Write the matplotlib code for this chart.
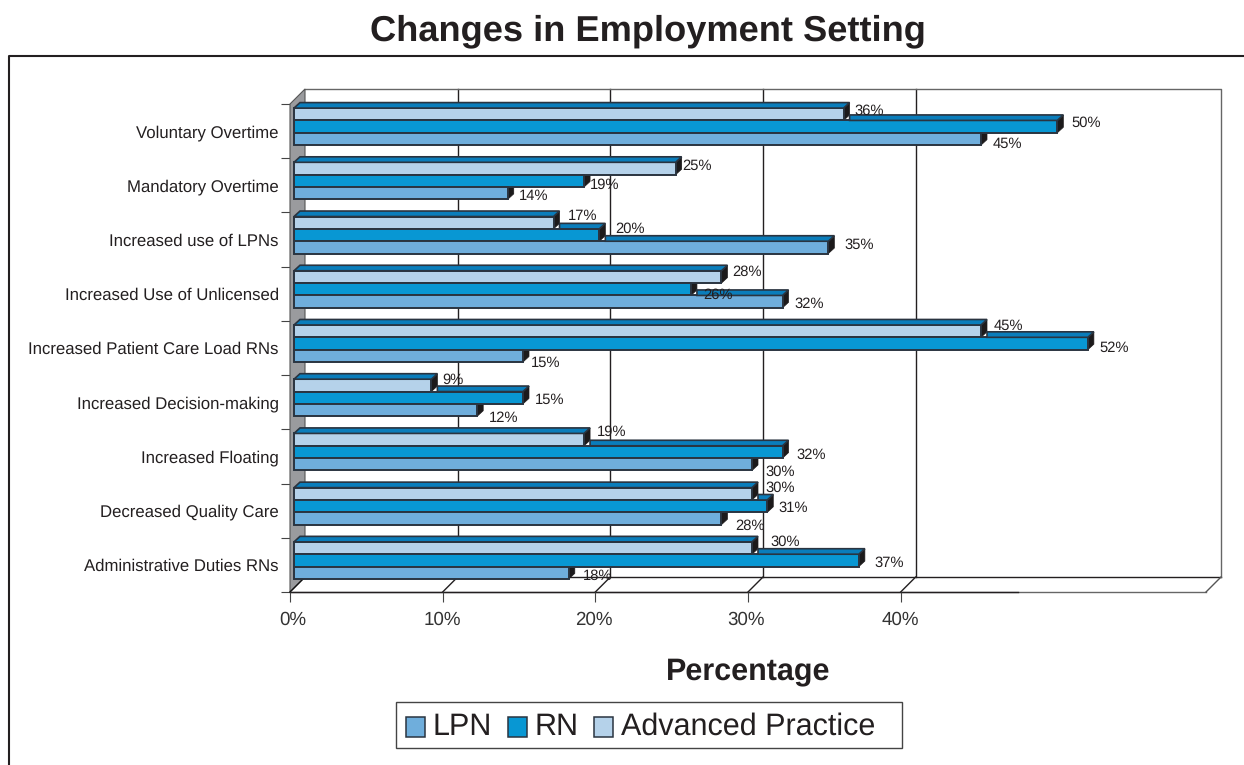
import matplotlib
matplotlib.use("Agg")
import matplotlib.pyplot as plt
from matplotlib.patches import Polygon, Patch, Rectangle
from matplotlib.lines import Line2D
from matplotlib.legend_handler import HandlerPatch
from matplotlib.transforms import ScaledTranslation

plt.rcParams['font.family'] = ['Liberation Sans', 'DejaVu Sans']
plt.rcParams['text.hinting'] = 'no_hinting'

categories = ["Administrative Duties RNs", "Decreased Quality Care", "Increased Floating",
              "Increased Decision-making", "Increased Patient Care Load RNs",
              "Increased Use of Unlicensed", "Increased use of LPNs",
              "Mandatory Overtime", "Voluntary Overtime"]
lpn = [18, 28, 30, 12, 15, 32, 35, 14, 45]
rn = [37, 31, 32, 15, 52, 26, 20, 19, 50]
advanced = [30, 30, 19, 9, 45, 28, 17, 25, 36]
series_names = ["LPN", "RN", "Advanced Practice"]
x_tick_values = [0, 10, 20, 30, 40]

W, H = 1244, 765
AX_L, AX_R, AX_T, AX_B = 290, 1206, 104, 592
XMAX = 60
PXX = (AX_R - AX_L) / XMAX
PXY = (AX_B - AX_T) / 9
dxw, dyw = 15 / PXX, 15 / PXY      # depth of the chart box
dxb, dyb = 6 / PXX, 5.5 / PXY      # depth of a bar
x0 = 4 / PXX                       # bar start
bh = 12.35 / PXY                   # bar height
shift = 4.5 / PXY                  # group shift upward

colors = ["#6FAEDC", "#0897D3", "#B5D2EA"]
TOP = "#0A7DBB"
SIDE = "#1C1A1B"
EDGE = "#2A3440"
INK = "#231F20"

# label offsets in pixels from the bar end (dx) and the bar centre (dy, positive = down)
label_off = {
    8: [(12, 5), (14, -3.5), (11, -3.5)],
    7: [(11, 3), (6, 4.5), (7, -2.5)],
    6: [(16.5, -2.5), (16, -6.5), (14, -6.5)],
    5: [(12, 2.5), (12, 5.5), (11, -4.5)],
    4: [(8, 7.5), (12, 4.5), (13, -5.5)],
    3: [(12, 7.5), (12, 2.5), (11, -5.5)],
    2: [(13, 7.5), (14, 3.5), (13, -7.5)],
    1: [(13.5, 7.5), (11, 1.5), (13, -5.5)],
    0: [(14, 3.5), (16, 2.5), (18, -6)],
}
tick_label_nudge = {0: 3, 10: 0, 20: -2, 30: -2, 40: 0}

fig = plt.figure(figsize=(W / 100, H / 100), dpi=100, facecolor="white")
ax = fig.add_axes([AX_L / W, 1 - AX_B / H, (AX_R - AX_L) / W, (AX_B - AX_T) / H])
ax.set_xlim(0, XMAX)
ax.set_ylim(0, 9)
ax.patch.set_alpha(0)
for s in ax.spines.values():
    s.set_visible(False)

# outer frame: left and top edges only
fig.add_artist(Line2D([8.5 / W, 8.5 / W, 1], [0, 1 - 55.5 / H, 1 - 55.5 / H], color=INK, lw=1.5))

# box: back wall, gridlines, floor, left wall
lw = 1.0
ax.plot([dxw, XMAX + dxw, XMAX + dxw], [9 + dyw, 9 + dyw, dyw], color="#666666", lw=lw, clip_on=False)
ax.plot([dxw, XMAX + dxw], [dyw, dyw], color=INK, lw=lw, clip_on=False, zorder=1)
ax.plot([0, XMAX], [0, 0], color="#666666", lw=lw, clip_on=False, zorder=1)
ax.plot([0, 47.7], [0, 0], color=INK, lw=lw, clip_on=False, zorder=1)
ax.plot([XMAX, XMAX + dxw], [0, dyw], color="#555555", lw=lw, clip_on=False)
for v in x_tick_values[1:]:
    ax.plot([v + dxw, v + dxw], [dyw, 9 + dyw], color=INK, lw=lw, clip_on=False, zorder=1)
    ax.plot([v, v + dxw], [0, dyw], color=INK, lw=lw, clip_on=False, zorder=1)
ax.add_patch(Polygon([(0, 0), (dxw, dyw), (dxw, 9 + dyw), (0, 9)], closed=True,
                     facecolor="#9A9B9E", edgecolor="#555555", lw=0.8, clip_on=False, zorder=2))
ax.plot([0, dxw], [0, dyw], color="#111111", lw=1.0, clip_on=False, zorder=2)

# bars
for i in range(len(categories)):
    for j, vals in enumerate((lpn, rn, advanced)):
        v = vals[i]
        yb = i + 0.5 + shift + (j - 1.5) * bh
        xe = x0 + v
        y_t = yb + bh
        ax.barh(yb, v, height=bh, left=x0, align="edge", color=colors[j], edgecolor=EDGE,
                linewidth=1.4, zorder=4 + (i * 3 + (2 - j)) * 0.01, clip_on=False)
        ax.add_patch(Polygon([(xe, yb), (xe + dxb, yb + dyb), (xe + dxb, y_t + dyb), (xe, y_t)],
                             closed=True, facecolor=SIDE, edgecolor=SIDE, lw=0.5,
                             zorder=3.9, clip_on=False))
        if j == 2:
            ax.add_patch(Polygon([(x0, y_t), (x0 + dxb, y_t + dyb), (xe + dxb, y_t + dyb), (xe, y_t)],
                                 closed=True, facecolor=TOP, edgecolor=EDGE, lw=1.2,
                                 zorder=4.5, clip_on=False))
    # top faces of bars that stick out beyond their upper neighbour
    for j, (vals, upper) in enumerate(((lpn, rn), (rn, advanced))):
        v, u = vals[i], upper[i]
        if v > u:
            yb = i + 0.5 + shift + (j - 1.5) * bh
            y_t = yb + bh
            ax.add_patch(Polygon([(x0 + u + dxb, y_t), (x0 + u + dxb, y_t + dyb),
                                  (x0 + v + dxb, y_t + dyb), (x0 + v, y_t)],
                                 closed=True, facecolor=TOP, edgecolor=EDGE, lw=1.2,
                                 zorder=4.4, clip_on=False))
    for j, vals in enumerate((lpn, rn, advanced)):
        v = vals[i]
        yc = i + 0.5 + shift + (j - 1) * bh
        ox, oy = label_off[i][j]
        ax.annotate(f"{v}%", (x0 + v, yc), xytext=(ox * 0.72, -oy * 0.72),
                    textcoords="offset points", ha="left", va="center",
                    fontsize=10.6, color=INK, zorder=6, annotation_clip=False)

# axes ticks and labels
ax.set_yticks(range(10))
ax.set_yticklabels([])
ax.set_yticks([i + 0.5 for i in range(9)], minor=True)
ax.set_yticklabels(categories, minor=True, fontsize=12.05, color=INK)
ax.tick_params(axis="y", which="major", length=6.5, width=0.8, color="#444444")
ax.tick_params(axis="y", which="minor", length=0, pad=8)
ax.set_xticks(x_tick_values)
ax.set_xticklabels([f"{v}%" for v in x_tick_values], fontsize=13.5, color="#333333")
ax.tick_params(axis="x", length=7, width=0.8, color="#444444", pad=7)
for lab, v in zip(ax.get_xticklabels(), x_tick_values):
    lab.set_transform(lab.get_transform() +
                      ScaledTranslation(tick_label_nudge[v] / 100, 0, fig.dpi_scale_trans))

fig.text(648 / W, 1 - 31.5 / H, "Changes in Employment Setting", ha="center", va="center",
         fontsize=26.1, fontweight="bold", color=INK)
fig.text(748 / W, 1 - 672 / H, "Percentage", ha="center", va="center",
         fontsize=22, fontweight="bold", color=INK)


def lowered_square(legend, orig_handle, xdescent, ydescent, width, height, fontsize):
    return Rectangle((-xdescent, -ydescent - 0.09 * fontsize), width, height)


# legend frame is wider on the right than the entries need, so it is drawn separately
fig.add_artist(Rectangle((396 / W, 1 - 748 / H), 506 / W, 46 / H, transform=fig.transFigure,
                         facecolor="white", edgecolor="#444444", lw=1.0))
handles = [Patch(facecolor=c, edgecolor=EDGE, lw=1.1) for c in colors]
leg = fig.legend(handles, series_names, loc="center left", bbox_to_anchor=(406 / W, 1 - 727 / H),
                 ncol=3, fontsize=22, frameon=False, handlelength=0.63, handleheight=0.63,
                 handletextpad=0.25, columnspacing=0.5, borderpad=0, borderaxespad=0,
                 handler_map={Patch: HandlerPatch(patch_func=lowered_square)})
leg.set_zorder(5)
for t in leg.get_texts():
    t.set_color(INK)

fig.savefig("out.png", dpi=100)
